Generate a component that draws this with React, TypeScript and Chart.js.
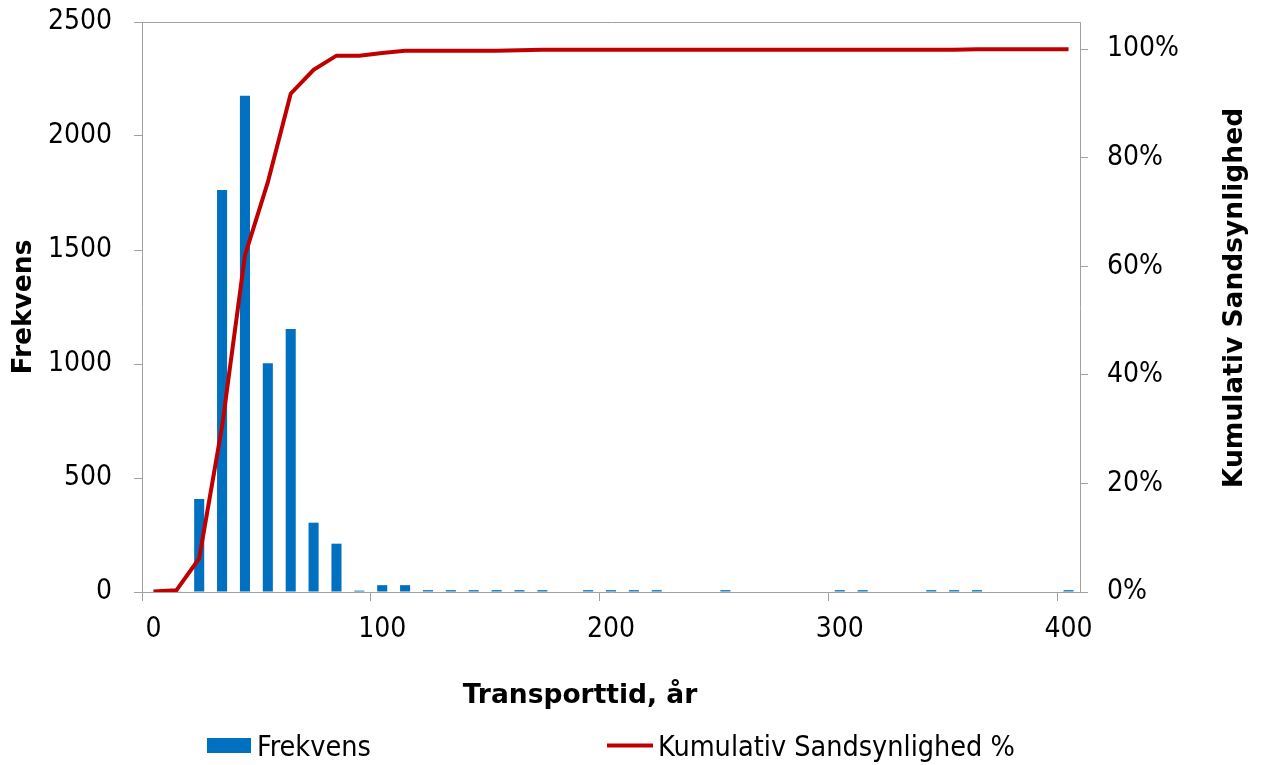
import React, { useEffect, useRef } from 'react';
import { Chart, registerables } from 'chart.js';

Chart.register(...registerables);

// ---- data ----
const categories = [
  '0', '10', '20', '30', '40', '50', '60', '70', '80', '90',
  '100', '110', '120', '130', '140', '150', '160', '170', '180', '190',
  '200', '210', '220', '230', '240', '250', '260', '270', '280', '290',
  '300', '310', '320', '330', '340', '350', '360', '370', '380', '390',
  '400',
];

const xTickLabels = ['0', '100', '200', '300', '400'];

const frekvens = [
  0, 3, 408, 1763, 2177, 1003, 1153, 304, 212, 6,
  30, 30, 8, 8, 8, 8, 8, 8, 0, 8,
  8, 8, 8, 0, 0, 8, 0, 0, 0, 0,
  8, 8, 0, 0, 8, 8, 8, 0, 0, 0,
  8,
];

const kumulativ = [
  0.001, 0.003, 0.062, 0.305, 0.62, 0.755, 0.918, 0.962, 0.988, 0.988,
  0.993, 0.997, 0.997, 0.997, 0.997, 0.997, 0.998, 0.999, 0.999, 0.999,
  0.999, 0.999, 0.999, 0.999, 0.999, 0.999, 0.999, 0.999, 0.999, 0.999,
  0.999, 0.999, 0.999, 0.999, 0.999, 0.999, 1.0, 1.0, 1.0, 1.0,
  1.0,
];

const leftTicks = [0, 500, 1000, 1500, 2000, 2500];
const rightTicks = [0, 0.2, 0.4, 0.6, 0.8, 1.0];
const rightMax = 1.05;

const barLabel = 'Frekvens';
const lineLabel = 'Kumulativ Sandsynlighed %';
const xTitle = 'Transporttid, år';
const yLeftTitle = 'Frekvens';
const yRightTitle = 'Kumulativ Sandsynlighed';

// ---- styles ----
const FONT = '"DejaVu Sans Condensed", "DejaVu Sans", sans-serif';
const TITLE_FONT = '"DejaVu Sans", sans-serif';
const BAR_COLOR = '#0070C0';
const LINE_COLOR = '#C00000';
const AXIS_COLOR = '#a0a0a0';
const TRANSPARENT = 'rgba(0,0,0,0)';

const leftMax = leftTicks[leftTicks.length - 1];

const overlayPlugin = {
  id: 'overlay',
  afterDraw(chart: any) {
    const { ctx } = chart;
    const ds = chart.data.datasets;
    ctx.save();
    ctx.fillStyle = '#000';

    // x-axis title
    ctx.font = `bold 26.5px ${TITLE_FONT}`;
    ctx.textAlign = 'center';
    ctx.textBaseline = 'alphabetic';
    ctx.fillText(xTitle, 580, 703);

    // right axis title (reads bottom to top)
    ctx.save();
    ctx.translate(1242, 298);
    ctx.rotate(-Math.PI / 2);
    ctx.fillText(yRightTitle, 0, 0);
    ctx.restore();

    // legend
    ctx.font = `28.5px ${FONT}`;
    ctx.textAlign = 'left';
    ctx.textBaseline = 'alphabetic';
    ctx.fillStyle = ds[1].backgroundColor;
    ctx.fillRect(207, 738, 44, 15);
    ctx.fillStyle = '#000';
    ctx.fillText(ds[1].label, 257, 756);

    ctx.strokeStyle = ds[0].borderColor;
    ctx.lineWidth = 4;
    ctx.beginPath();
    ctx.moveTo(607, 745.5);
    ctx.lineTo(653, 745.5);
    ctx.stroke();
    ctx.fillText(ds[0].label, 658, 756);

    ctx.restore();
  },
};

export default function App() {
  const canvasRef = useRef<HTMLCanvasElement | null>(null);

  useEffect(() => {
    if (!canvasRef.current) return;
    const tickFont = { family: FONT, size: 28 };
    const chart = new Chart(canvasRef.current, {
      type: 'bar',
      data: {
        labels: categories,
        datasets: [
          {
            type: 'line',
            label: lineLabel,
            data: kumulativ,
            borderColor: LINE_COLOR,
            backgroundColor: LINE_COLOR,
            borderWidth: 4,
            pointRadius: 0,
            tension: 0,
            fill: false,
            yAxisID: 'y1',
            order: 0,
          } as any,
          {
            type: 'bar',
            label: barLabel,
            data: frekvens,
            backgroundColor: BAR_COLOR,
            borderWidth: 0,
            barPercentage: 0.44,
            categoryPercentage: 1.0,
            yAxisID: 'y',
            order: 1,
          } as any,
        ],
      },
      options: {
        animation: false,
        responsive: false,
        maintainAspectRatio: false,
        layout: { padding: { top: 22, left: 0, right: 0, bottom: 0 } },
        plugins: {
          legend: { display: false },
          tooltip: { enabled: false },
        },
        scales: {
          x: {
            type: 'category',
            offset: true,
            afterFit: (s: any) => {
              s.height = 173;
              s.paddingLeft = 0;
              s.paddingRight = 0;
            },
            grid: {
              offset: true,
              drawOnChartArea: false,
              drawTicks: true,
              tickLength: 9,
              color: TRANSPARENT,
              tickColor: (c: any) => (typeof c.index === 'number' && c.index % 10 === 0 ? AXIS_COLOR : TRANSPARENT),
            },
            border: { display: true, color: AXIS_COLOR, width: 1 },
            ticks: {
              autoSkip: false,
              maxRotation: 0,
              minRotation: 0,
              padding: 12,
              color: '#000',
              font: tickFont,
              callback: (_v: any, i: number) => (xTickLabels.includes(categories[i]) ? categories[i] : ''),
            },
          },
          y: {
            type: 'linear',
            position: 'left',
            min: 0,
            max: leftMax,
            afterFit: (s: any) => {
              s.width = 142;
              s.paddingTop = 0;
              s.paddingBottom = 0;
            },
            afterBuildTicks: (s: any) => {
              s.ticks = leftTicks.map((v) => ({ value: v }));
            },
            grid: {
              drawOnChartArea: true,
              drawTicks: true,
              tickLength: 8,
              color: (c: any) => (c.tick && c.tick.value === leftMax ? AXIS_COLOR : TRANSPARENT),
              tickColor: AXIS_COLOR,
            },
            border: { display: true, color: AXIS_COLOR, width: 1 },
            ticks: {
              padding: 22,
              color: '#000',
              font: tickFont,
              callback: (v: any) => String(v),
            },
            title: {
              display: true,
              text: yLeftTitle,
              color: '#000',
              font: { family: TITLE_FONT, size: 26.5, weight: 'bold' },
              padding: { top: 8, bottom: 0 },
            },
          },
          y1: {
            type: 'linear',
            position: 'right',
            min: 0,
            max: rightMax,
            afterFit: (s: any) => {
              s.width = 181;
              s.paddingTop = 0;
              s.paddingBottom = 0;
            },
            afterBuildTicks: (s: any) => {
              s.ticks = rightTicks.map((v) => ({ value: v }));
            },
            grid: {
              drawOnChartArea: false,
              drawTicks: true,
              tickLength: 8,
              color: TRANSPARENT,
              tickColor: AXIS_COLOR,
            },
            border: { display: true, color: AXIS_COLOR, width: 1 },
            ticks: {
              padding: 19,
              color: '#000',
              font: tickFont,
              callback: (v: any) => `${Math.round(Number(v) * 100)}%`,
            },
          },
        },
      },
      plugins: [overlayPlugin],
    });
    return () => chart.destroy();
  }, []);

  return (
    <div style={{ position: 'fixed', left: 0, top: 0, width: 1261, height: 765, background: '#fff' }}>
      <canvas ref={canvasRef} width={1261} height={765} style={{ display: 'block' }} />
    </div>
  );
}
